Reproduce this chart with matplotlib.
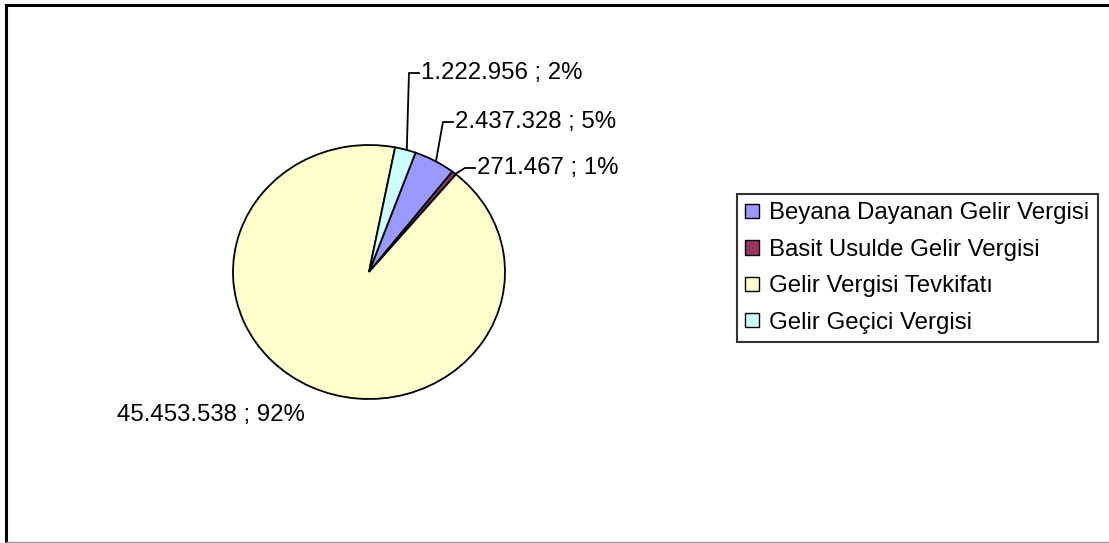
import numpy as np
import matplotlib.pyplot as plt
from matplotlib.lines import Line2D
from matplotlib.patches import Patch

plt.rcParams['font.family'] = ['Liberation Sans', 'DejaVu Sans']

categories = ['Beyana Dayanan Gelir Vergisi', 'Basit Usulde Gelir Vergisi',
              'Gelir Vergisi Tevkifatı', 'Gelir Geçici Vergisi']
values = [2437328, 271467, 45453538, 1222956]
colors = ['#9999FF', '#993366', '#FFFFCC', '#CCFFFF']

W, H = 1109, 543
fig = plt.figure(figsize=(W / 100, H / 100), dpi=100)

# pie drawn into an axes sized like the (slightly squashed) Excel ellipse
cx, cy, rx, ry = 369, 272, 136, 127
ax = fig.add_axes([(cx - rx) / W, (H - cy - ry) / H, 2 * rx / W, 2 * ry / H])
wedges, _ = ax.pie(values, colors=colors, startangle=70, counterclock=False,
                   wedgeprops=dict(edgecolor='black', linewidth=1.3))
ax.set_aspect('auto')
ax.set_xlim(-1, 1)
ax.set_ylim(-1, 1)

# data labels: value ; percent
total = sum(values)
label_pos = [(0.632, 1.181), (0.794, 0.819), (-1.853, -1.126), (0.382, 1.567)]
leader = [True, True, False, True]
fs = 17.3
for w, v, (tx, ty), ld in zip(wedges, values, label_pos, leader):
    txt = '{:,}'.format(v).replace(',', '.') + ' ; ' + '{:.0f}%'.format(100 * v / total)
    ax.text(tx, ty, txt, fontsize=fs, ha='left', va='center', clip_on=False)
    if ld:
        mid = np.deg2rad((w.theta1 + w.theta2) / 2)
        ex, ey = np.cos(mid), np.sin(mid)
        elbow_x = tx - 12 / rx
        if ty - ey > 0.2:
            xs = [ex + 0.01, elbow_x, tx - 2 / rx]
        else:
            xs = [ex + 0.02, ex + 0.08, tx - 2 / rx]
        ys = [ey, ty, ty]
        ax.plot(xs, ys, color='black', lw=1.3, clip_on=False)

handles = [Patch(facecolor=c, edgecolor='black', linewidth=1) for c in colors]
leg = fig.legend(handles, categories, loc='upper left',
                 bbox_to_anchor=(737 / W, 1 - 194 / H), fontsize=fs,
                 frameon=True, fancybox=False, borderaxespad=0,
                 handlelength=0.55, handleheight=0.55, handletextpad=0.45,
                 labelspacing=0.6, borderpad=0.35)
leg.get_frame().set_edgecolor('black')
leg.get_frame().set_linewidth(1.5)

# chart area border (cropped on the right)
fig.add_artist(Line2D([6 / W, 1], [1 - 4.5 / H, 1 - 4.5 / H], color='black', lw=2.2))
fig.add_artist(Line2D([6 / W, 6 / W], [0, 1 - 4.5 / H], color='black', lw=2.2))
fig.add_artist(Line2D([6 / W, 1], [1.2 / H, 1.2 / H], color='#999999', lw=1))

fig.savefig('out.png', dpi=100)
